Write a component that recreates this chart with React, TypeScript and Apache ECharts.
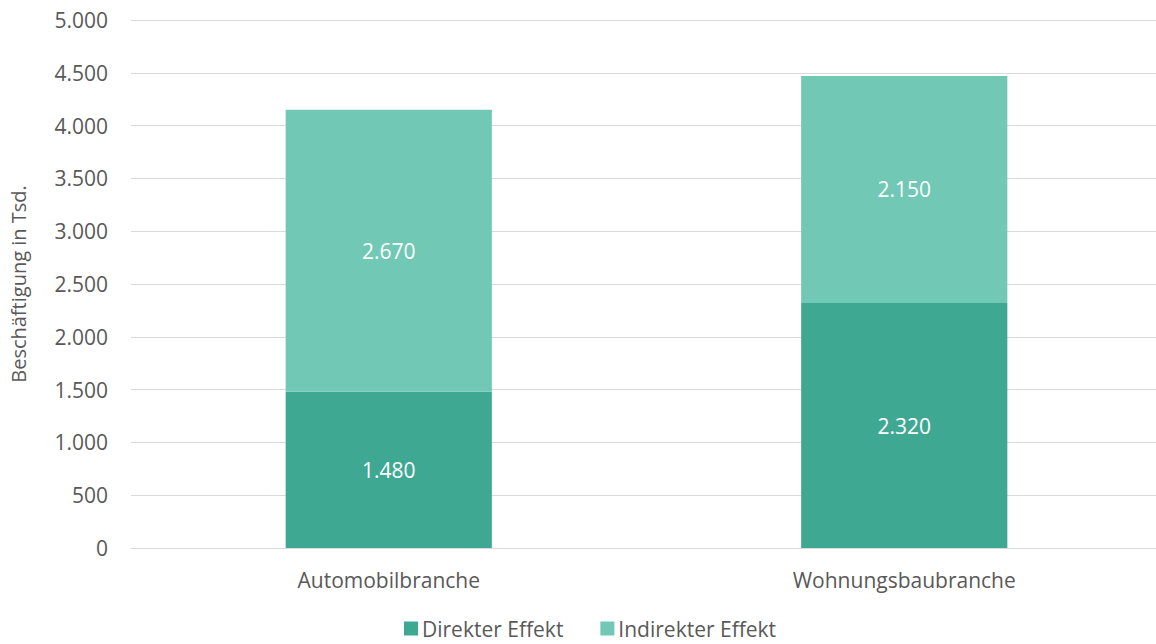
import React, { useEffect, useRef } from "react";
import * as echarts from "echarts";

const categories = ["Automobilbranche", "Wohnungsbaubranche"];
const direkterEffekt = [1480, 2320];
const indirekterEffekt = [2670, 2150];
const seriesNames = ["Direkter Effekt", "Indirekter Effekt"];
const yAxisName = "Beschäftigung in Tsd.";

const fmt = (v: number) => String(v).replace(/\B(?=(\d{3})+(?!\d))/g, ".");

export default function App() {
  const ref = useRef<HTMLDivElement>(null);
  useEffect(() => {
    document.body.style.margin = "0";
    const chart = echarts.init(ref.current!, null, { renderer: "svg" });
    const font = "'Open Sans', 'Noto Sans', sans-serif";
    const fs = 21;
    chart.setOption({
      animation: false,
      textStyle: { fontFamily: font },
      grid: { left: 130, right: 0, top: 20, bottom: 96, containLabel: false },
      legend: {
        bottom: 0,
        left: 399,
        itemWidth: 14,
        itemHeight: 14,
        itemGap: 37,
        icon: "rect",
        textStyle: { fontSize: fs, color: "#595959", fontFamily: font, padding: [0, 0, 0, -1] },
        data: seriesNames,
      },
      xAxis: {
        type: "category",
        data: categories,
        axisTick: { show: false },
        axisLine: { lineStyle: { color: "#d9d9d9", width: 1 } },
        axisLabel: { fontSize: fs, color: "#595959", margin: 21, fontFamily: font },
      },
      yAxis: {
        type: "value",
        min: 0,
        max: 5000,
        interval: 500,
        name: yAxisName,
        nameLocation: "middle",
        nameGap: 103,
        nameTextStyle: { fontSize: 20, color: "#595959", fontFamily: font },
        axisLabel: {
          fontSize: fs,
          color: "#595959",
          margin: 23,
          fontFamily: font,
          formatter: (v: number) => fmt(v),
        },
        splitLine: { lineStyle: { color: "#d9d9d9", width: 1 } },
      },
      series: [
        {
          name: seriesNames[0],
          type: "bar",
          stack: "total",
          data: direkterEffekt,
          barWidth: "40%",
          itemStyle: { color: "#3FA892" },
          label: {
            show: true,
            position: "inside",
            color: "#ffffff",
            fontSize: fs,
            fontFamily: font,
            formatter: (p: any) => fmt(p.value),
          },
        },
        {
          name: seriesNames[1],
          type: "bar",
          stack: "total",
          data: indirekterEffekt,
          barWidth: "40%",
          itemStyle: { color: "#70C8B5" },
          label: {
            show: true,
            position: "inside",
            color: "#ffffff",
            fontSize: fs,
            fontFamily: font,
            formatter: (p: any) => fmt(p.value),
          },
        },
      ],
    });
    return () => chart.dispose();
  }, []);
  return (
    <div style={{ width: 1156, height: 644, overflow: "hidden" }}>
      <div ref={ref} style={{ width: 1162, height: 644 }} />
    </div>
  );
}
